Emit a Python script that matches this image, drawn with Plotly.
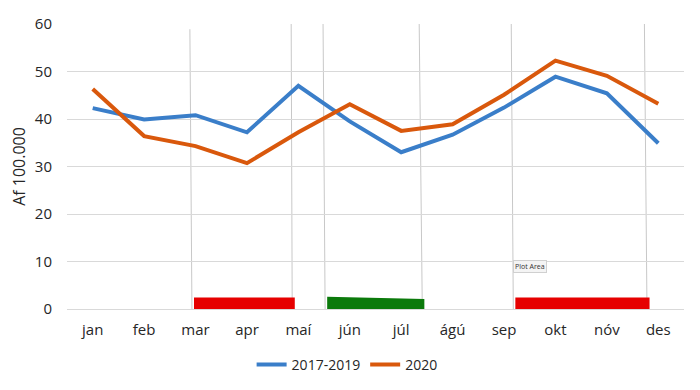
import plotly.graph_objects as go

months = ["jan", "feb", "mar", "apr", "maí", "jún", "júl", "ágú", "sep", "okt", "nóv", "des"]
avg_2017_2019 = [42.3, 39.9, 40.8, 37.2, 47.0, 39.5, 33.0, 36.7, 42.4, 48.9, 45.4, 34.9]
y_2020 = [46.3, 36.4, 34.3, 30.7, 37.2, 43.1, 37.5, 38.9, 45.1, 52.3, 49.1, 43.2]

# Marked periods (in month-index units) and their bar heights
period_start = [1.97, 4.56, 8.22]
period_end = [3.93, 6.45, 10.83]
period_h_left = [2.4, 2.6, 2.4]
period_h_right = [2.4, 2.1, 2.4]
period_color = ["#e60000", "#0b7a0b", "#e60000"]

# Hand-drawn vertical marker lines (month-index units, top / bottom)
vline_top_x = [1.89, 3.86, 4.48, 6.35, 8.14, 10.73]
vline_bot_x = [1.93, 3.88, 4.52, 6.41, 8.18, 10.78]
vline_top_y = [58.9, 60, 60, 60, 60, 60]

x = list(range(len(months)))

fig = go.Figure()
fig.add_trace(go.Scatter(x=x, y=avg_2017_2019, mode="lines", name="2017-2019",
                         line=dict(color="#3a7ec9", width=4)))
fig.add_trace(go.Scatter(x=x, y=y_2020, mode="lines", name="2020",
                         line=dict(color="#d9580c", width=4)))

shapes = []
for xt, xb, yt in zip(vline_top_x, vline_bot_x, vline_top_y):
    shapes.append(dict(type="line", xref="x", yref="y", x0=xt, y0=yt, x1=xb, y1=0,
                       line=dict(color="#c8c8c8", width=1), layer="below"))
for s, e, hl, hr, c in zip(period_start, period_end, period_h_left, period_h_right, period_color):
    shapes.append(dict(type="path", xref="x", yref="y",
                       path=f"M {s},-0.2 L {s},{hl} L {e},{hr} L {e},-0.2 Z",
                       fillcolor=c, line=dict(width=0), layer="above"))

fig.update_layout(
    width=692, height=382,
    margin=dict(l=59, r=16, t=16, b=81, autoexpand=False),
    paper_bgcolor="white", plot_bgcolor="white",
    font=dict(family="Open Sans, Noto Sans, sans-serif", size=15, color="#262626"),
    shapes=shapes,
    showlegend=True,
    legend=dict(orientation="h", x=0.454, xanchor="center", y=-0.196, yanchor="middle",
                font=dict(size=14, color="#262626"), itemwidth=30),
    annotations=[dict(text="Plot Area", x=8.5, y=8.9, xref="x", yref="y", showarrow=False,
                      font=dict(size=7, color="#333"), bgcolor="#f4f4f4",
                      bordercolor="#d0d0d0", borderwidth=1, borderpad=1)],
)
fig.update_xaxes(tickmode="array", tickvals=x, ticktext=months, range=[-0.5, 11.5],
                 showgrid=False, zeroline=False, showline=False, ticks="",
                 ticklabelstandoff=10, automargin=False)
fig.update_yaxes(range=[0, 60], dtick=10, showgrid=True, gridcolor="#d9d9d9", gridwidth=1,
                 zeroline=True, zerolinecolor="#d9d9d9", zerolinewidth=1,
                 ticks="", ticklabelstandoff=14, automargin=False,
                 title=dict(text="Af 100.000", font=dict(size=16), standoff=8))

fig.write_html("out.html")
